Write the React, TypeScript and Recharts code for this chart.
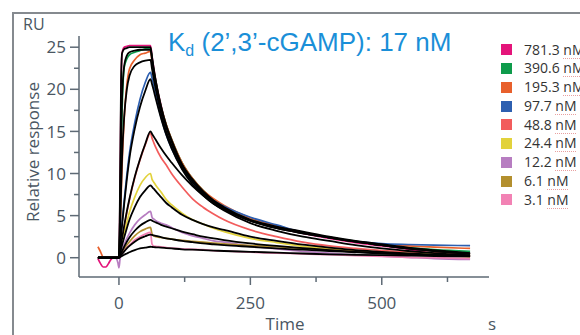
import { LineChart, Line, XAxis, YAxis } from 'recharts';

// time points (s)
const times = [-40, -35, -30, -25, -20, -15, -10, -5, -2, 0, 2, 4, 6, 10, 15, 20, 30, 40, 50, 60, 63, 66, 70, 80, 90, 100, 120, 140, 160, 180, 200, 250, 300, 350, 400, 450, 500, 550, 600, 668];

// measured responses (RU)
const exp781 = [-0.1, -0.7, -1.1, -1.1, -0.7, -0.2, 0, 0, 0, 0, 7, 20, 24.3, 25.0, 25.1, 25.2, 25.2, 25.2, 25.2, 25.2, 23.9, 22.6, 21.1, 18.1, 15.7, 14.0, 11.1, 9.3, 7.9, 6.8, 6.0, 4.5, 3.6, 2.9, 2.3, 1.8, 1.4, 1.0, 0.5, 0.15];
const exp390 = [0, 0, 0, 0, 0, 0, 0, 0, 0, 0, 4, 12, 17.5, 22.6, 23.6, 24.1, 24.4, 24.6, 24.8, 24.9, 23.7, 22.4, 21.0, 18.0, 15.8, 14.1, 11.3, 9.4, 8.0, 6.9, 6.1, 4.6, 3.7, 3.0, 2.4, 1.95, 1.55, 1.2, 0.95, 0.75];
const exp195 = [1.3, 0.7, 0.05, 0, 0, 0, 0, 0, 0, 0, 2.5, 7, 11, 16.5, 20.5, 22.4, 23.5, 24.1, 24.3, 24.5, 23.3, 22.1, 20.8, 17.9, 15.8, 14.1, 11.3, 9.4, 8.0, 7.0, 6.2, 4.7, 3.8, 3.0, 2.4, 1.95, 1.6, 1.4, 1.25, 1.1];
const exp97 = [0, 0, 0, 0, 0, 0, 0, 0, 0, 0, 1.4, 2.8, 4.2, 6.8, 9.8, 12.4, 16.0, 18.8, 20.8, 22.0, 21.3, 20.5, 19.3, 16.7, 14.6, 13.0, 10.6, 8.9, 7.7, 6.8, 6.1, 4.8, 3.9, 3.0, 2.4, 1.95, 1.68, 1.57, 1.5, 1.43];
const exp48 = [0, 0, 0, 0, 0, 0, 0, 0, 0, 0, 0.7, 1.5, 2.2, 3.6, 5.4, 6.9, 9.5, 11.6, 13.4, 14.8, 14.2, 13.7, 13.1, 11.9, 11.0, 10.0, 8.4, 7.0, 6.0, 5.2, 4.5, 3.3, 2.5, 1.85, 1.4, 1.1, 0.85, 0.7, 0.6, 0.5];
const exp24 = [0, 0, 0, 0, 0, 0, 0, 0, 0, 0, 0.6, 1.2, 1.8, 2.9, 4.2, 5.4, 7.2, 8.6, 9.5, 10.0, 9.3, 9.0, 8.6, 7.8, 6.9, 6.3, 5.3, 4.5, 4.0, 3.5, 3.1, 2.3, 1.8, 1.35, 1.1, 0.85, 0.65, 0.5, 0.4, 0.3];
const exp12 = [0, 0, 0, 0, 0, 0, 0, -0.1, -0.6, -1.2, -0.2, 0.5, 0.9, 1.6, 2.3, 2.9, 3.9, 4.6, 5.1, 5.5, 4.8, 4.6, 4.4, 4.1, 3.9, 3.6, 3.0, 2.6, 2.3, 2.0, 1.85, 1.4, 1.05, 0.75, 0.55, 0.35, 0.2, 0.05, -0.1, -0.2];
const exp6 = [0, 0, 0, 0, 0, 0, 0, 0, 0, 0, 0.2, 0.4, 0.6, 1.0, 1.5, 1.9, 2.6, 3.1, 3.4, 3.6, 2.8, 2.6, 2.5, 2.4, 2.3, 2.2, 2.05, 1.95, 1.85, 1.75, 1.65, 1.45, 1.3, 1.1, 0.95, 0.75, 0.6, 0.45, 0.3, 0.1];
const exp3 = [0, 0, 0, 0, 0, 0, 0, 0, 0, 0, 0.15, 0.3, 0.45, 0.8, 1.2, 1.5, 2.1, 2.5, 2.8, 3.0, 1.6, 1.4, 1.35, 1.3, 1.2, 1.15, 1.05, 1.0, 0.95, 0.85, 0.8, 0.65, 0.55, 0.45, 0.35, 0.25, 0.15, 0.05, 0, -0.1];

// fitted curves (RU)
const fit781 = [0, 0, 0, 0, 0, 0, 0, 0, 0, 0, 8, 21, 24.3, 24.8, 24.9, 25, 25, 25, 25, 25, 23.8, 22.5, 21.0, 18.0, 15.7, 14.0, 11.1, 9.3, 7.9, 6.8, 6.0, 4.5, 3.7, 3.1, 2.5, 2.0, 1.6, 1.2, 0.9, 0.55];
const fit390 = [0, 0, 0, 0, 0, 0, 0, 0, 0, 0, 5, 14, 19, 22.8, 24.0, 24.4, 24.6, 24.7, 24.7, 24.7, 23.5, 22.2, 20.8, 17.8, 15.5, 13.8, 11.0, 9.2, 7.8, 6.7, 5.9, 4.4, 3.6, 3.0, 2.4, 1.9, 1.5, 1.1, 0.8, 0.45];
const fit195 = [0, 0, 0, 0, 0, 0, 0, 0, 0, 0, 3, 8, 12, 16.8, 20.0, 21.6, 22.8, 23.2, 23.4, 23.5, 22.4, 21.3, 20.0, 17.2, 15.0, 13.4, 10.8, 9.0, 7.6, 6.6, 5.8, 4.4, 3.5, 2.9, 2.4, 1.9, 1.5, 1.1, 0.8, 0.45];
const fit97 = [0, 0, 0, 0, 0, 0, 0, 0, 0, 0, 1.3, 2.6, 3.9, 6.4, 9.3, 11.8, 15.3, 17.9, 19.8, 21.2, 20.6, 19.9, 18.9, 16.6, 14.6, 13.0, 10.5, 8.7, 7.4, 6.4, 5.7, 4.4, 3.5, 2.9, 2.4, 1.9, 1.5, 1.1, 0.8, 0.5];
const fit48 = [0, 0, 0, 0, 0, 0, 0, 0, 0, 0, 0.8, 1.6, 2.3, 3.8, 5.5, 7.0, 9.6, 11.7, 13.5, 15.0, 14.7, 14.4, 14.0, 13.0, 12.1, 11.3, 9.8, 8.5, 7.4, 6.4, 5.6, 4.1, 3.2, 2.5, 2.0, 1.5, 1.1, 0.8, 0.55, 0.3];
const fit24 = [0, 0, 0, 0, 0, 0, 0, 0, 0, 0, 0.5, 1.0, 1.5, 2.4, 3.5, 4.5, 6.0, 7.2, 8.0, 8.6, 8.4, 8.2, 7.9, 7.2, 6.5, 6.0, 5.1, 4.5, 4.0, 3.6, 3.3, 2.5, 2.0, 1.55, 1.2, 0.9, 0.7, 0.5, 0.35, 0.2];
const fit12 = [0, 0, 0, 0, 0, 0, 0, 0, 0, 0, 0.3, 0.55, 0.8, 1.3, 1.9, 2.4, 3.2, 3.8, 4.2, 4.5, 4.4, 4.3, 4.2, 3.9, 3.7, 3.5, 3.1, 2.8, 2.5, 2.3, 2.1, 1.7, 1.4, 1.15, 0.9, 0.7, 0.55, 0.4, 0.3, 0.2];
const fit6 = [0, 0, 0, 0, 0, 0, 0, 0, 0, 0, 0.15, 0.3, 0.45, 0.75, 1.1, 1.4, 1.9, 2.3, 2.55, 2.75, 2.7, 2.65, 2.6, 2.45, 2.3, 2.2, 2.0, 1.85, 1.7, 1.6, 1.5, 1.3, 1.1, 0.95, 0.8, 0.65, 0.5, 0.4, 0.3, 0.2];
const fit3 = [0, 0, 0, 0, 0, 0, 0, 0, 0, 0, 0.07, 0.14, 0.2, 0.35, 0.5, 0.65, 0.9, 1.1, 1.2, 1.3, 1.28, 1.26, 1.24, 1.2, 1.15, 1.1, 1.0, 0.95, 0.9, 0.85, 0.8, 0.7, 0.6, 0.5, 0.4, 0.35, 0.3, 0.25, 0.2, 0.15];

const concentrations = ['781.3 nM', '390.6 nM', '195.3 nM', '97.7 nM', '48.8 nM', '24.4 nM', '12.2 nM', '6.1 nM', '3.1 nM'];
const colors = ['#e4147a', '#0e9b4b', '#e8602c', '#2d5fb0', '#f25c5c', '#e2d23c', '#b77dc1', '#b38f2e', '#f282b4'];
const measured = [exp781, exp390, exp195, exp97, exp48, exp24, exp12, exp6, exp3];
const fitted = [fit781, fit390, fit195, fit97, fit48, fit24, fit12, fit6, fit3];

const yTicks = [0, 2.5, 5, 7.5, 10, 12.5, 15, 17.5, 20, 22.5, 25];
const xTicks = [0, 125, 250, 375, 500, 625];

const AXIS = '#5e6a75';
const TEXT = '#4a5662';
const FONT = '"Open Sans", sans-serif';

const rows = times.map((t, i) => {
    const row: any = { t };
    measured.forEach((s, k) => { row['e' + k] = s[i]; });
    fitted.forEach((s, k) => { row['f' + k] = s[i]; });
    return row;
});

const YTick = ({ x, y, payload }: any) => {
    const major = payload.value % 5 === 0;
    return (
        <g>
            <line x1={x - (major ? 9 : 5)} x2={x} y1={y} y2={y} stroke={AXIS} strokeWidth={1.5} />
            {major && (
                <text x={x - 13} y={y} dy="0.36em" textAnchor="end" fill={TEXT} fontSize={17} fontFamily={FONT}>
                    {payload.value}
                </text>
            )}
        </g>
    );
};

const XTick = ({ x, y, payload }: any) => {
    const major = payload.value % 250 === 0;
    return (
        <g>
            <line x1={x} x2={x} y1={y} y2={y + (major ? 8 : 5)} stroke={AXIS} strokeWidth={1.5} />
            {major && (
                <text x={x} y={y + 26} dy="0.36em" textAnchor="middle" fill={TEXT} fontSize={17} fontFamily={FONT}>
                    {payload.value}
                </text>
            )}
        </g>
    );
};

export default function App() {
    return (
        <div style={{ position: 'absolute', left: 0, top: 0, width: 580, height: 335, overflow: 'hidden', background: '#fff', fontFamily: FONT }}>
            <div style={{ position: 'absolute', left: 12, top: 12, width: 700, height: 500, borderLeft: '2px solid #858a8f', borderTop: '2px solid #858a8f' }} />
            <div style={{ position: 'absolute', left: 0, top: 0 }}>
                <LineChart width={580} height={335} data={rows} margin={{ top: 36, right: 91, bottom: 28, left: 0 }}>
                    <XAxis
                        type="number"
                        dataKey="t"
                        domain={[-76, 704]}
                        ticks={xTicks}
                        interval={0}
                        allowDataOverflow
                        height={30}
                        tickSize={0}
                        tickMargin={0}
                        tickLine={false}
                        tick={(p: any) => <XTick {...p} />}
                        axisLine={{ stroke: AXIS, strokeWidth: 1.5 }}
                    />
                    <YAxis
                        type="number"
                        domain={[-2.29, 26.33]}
                        ticks={yTicks}
                        interval={0}
                        allowDataOverflow
                        width={79}
                        tickSize={0}
                        tickMargin={0}
                        tickLine={false}
                        tick={(p: any) => <YTick {...p} />}
                        axisLine={{ stroke: AXIS, strokeWidth: 1.5 }}
                    />
                    {measured.map((_, k) => (
                        <Line key={'e' + k} type="monotone" dataKey={'e' + k} stroke={colors[k]} strokeWidth={1.7} dot={false} isAnimationActive={false} />
                    ))}
                    {fitted.map((_, k) => (
                        <Line key={'f' + k} type="monotone" dataKey={'f' + k} stroke="#000" strokeWidth={1.8} dot={false} isAnimationActive={false} />
                    ))}
                </LineChart>
            </div>

            <div style={{ position: 'absolute', left: 23, top: 13, fontSize: 16, color: TEXT, lineHeight: '22px' }}>RU</div>
            <div style={{ position: 'absolute', left: 32, top: 152, fontSize: 17, color: TEXT, whiteSpace: 'nowrap', transform: 'translate(-50%, -50%) rotate(-90deg)' }}>
                Relative response
            </div>
            <div style={{ position: 'absolute', left: 285, top: 312, fontSize: 17, lineHeight: '23px', color: TEXT, transform: 'translateX(-50%)' }}>Time</div>
            <div style={{ position: 'absolute', left: 492, top: 312, fontSize: 17, lineHeight: '23px', color: TEXT, transform: 'translateX(-50%)' }}>s</div>

            <div style={{ position: 'absolute', left: 168, top: 29, fontFamily: '"Liberation Sans", Arial, sans-serif', fontSize: 26, lineHeight: '26px', color: '#1a8fd8', whiteSpace: 'nowrap' }}>
                K<sub style={{ fontSize: 16, verticalAlign: '-5px' }}>d</sub> (2’,3’-cGAMP): 17 nM
            </div>

            <div style={{ position: 'absolute', left: 501, top: 40.6 }}>
                {concentrations.map((c, k) => {
                    const [num, unit] = c.split(' ');
                    return (
                        <div key={c} style={{ display: 'flex', alignItems: 'center', height: 18.75, whiteSpace: 'nowrap' }}>
                            <span style={{ display: 'inline-block', width: 11, height: 11, background: colors[k], marginRight: 12 }} />
                            <span style={{ fontSize: 14, lineHeight: '18.75px', color: '#333' }}>
                                {num}{' '}
                                <span style={{ textDecoration: 'underline dotted #e8a0a0', textDecorationThickness: '1px', textUnderlineOffset: '3px' }}>{unit}</span>
                            </span>
                        </div>
                    );
                })}
            </div>
        </div>
    );
}
